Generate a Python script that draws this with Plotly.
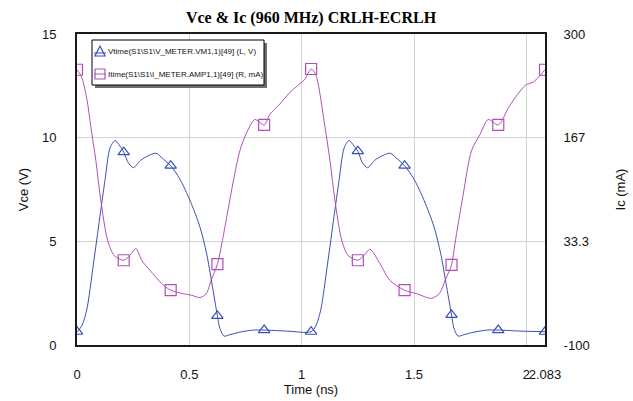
import numpy as np
import plotly.graph_objects as go

# Time axis (ns) and Vce (V) waveform, left axis
t_v = [0.000, 0.020, 0.043, 0.073, 0.102, 0.124, 0.147, 0.169, 0.191, 0.208,
       0.228, 0.251, 0.282, 0.325, 0.352, 0.384, 0.417, 0.458, 0.503, 0.547,
       0.577, 0.600, 0.625, 0.636, 0.654, 0.681, 0.725, 0.784, 0.833, 0.935,
       1.042, 1.062, 1.085, 1.115, 1.144, 1.166, 1.189, 1.211, 1.233, 1.250,
       1.270, 1.293, 1.324, 1.367, 1.394, 1.426, 1.458, 1.500, 1.545, 1.589,
       1.619, 1.642, 1.667, 1.678, 1.696, 1.723, 1.767, 1.826, 1.875, 1.977,
       2.083]
vce = [0.64, 0.90, 1.68, 3.90, 6.20, 7.90, 9.50, 9.86, 9.60, 9.30,
       8.80, 8.55, 8.90, 9.17, 9.25, 8.97, 8.65, 8.00, 6.97, 5.70,
       4.40, 3.00, 1.40, 0.80, 0.43, 0.50, 0.62, 0.72, 0.72, 0.67,
       0.64, 0.90, 1.70, 3.90, 6.20, 7.90, 9.50, 9.86, 9.60, 9.35,
       8.80, 8.55, 8.90, 9.17, 9.25, 8.97, 8.65, 8.00, 6.97, 5.70,
       4.40, 3.00, 1.45, 0.80, 0.43, 0.50, 0.62, 0.72, 0.72, 0.67,
       0.64]

# Ic (mA) waveform, right axis
t_i = [0.000, 0.020, 0.043, 0.062, 0.084, 0.106, 0.136, 0.166, 0.208, 0.235,
       0.262, 0.290, 0.325, 0.377, 0.417, 0.473, 0.510, 0.548, 0.575, 0.597,
       0.625, 0.645, 0.666, 0.696, 0.725, 0.755, 0.792, 0.833, 0.859, 0.903,
       0.948, 0.992, 1.015, 1.042, 1.062, 1.074, 1.104, 1.126, 1.148, 1.178,
       1.207, 1.250, 1.277, 1.304, 1.348, 1.393, 1.458, 1.512, 1.578, 1.615,
       1.638, 1.667, 1.682, 1.719, 1.756, 1.794, 1.830, 1.875, 1.920, 1.960,
       2.000, 2.030, 2.083]
ic = [254, 245, 218, 180, 137, 86, 35, 15, 9, 15,
      24, 8, -4, -21, -29.5, -34, -36, -39, -34, -17,
      4, 31, 64, 111, 150, 173, 190, 183, 197, 210,
      225, 236, 242, 255, 248, 235, 180, 137, 86, 35,
      15, 9, 15, 23, 5, -17, -29.5, -34, -40, -33,
      -17, 3, 30, 94, 150, 171, 190, 183, 205, 222,
      235, 238, 254]

marker_times = [0.0, 0.208, 0.417, 0.625, 0.833, 1.042, 1.250, 1.458, 1.667, 1.875, 2.083]

x_tickvals = [0, 0.5, 1, 1.5, 2, 2.083]
x_ticktext = ["0", "0.5", "1", "1.5", "2", "2.083"]
y1_tickvals = [0, 5, 10, 15]
y2_tickvals = [-100, 33.333, 166.667, 300]
y2_ticktext = ["-100", "33.3", "167", "300"]

name_v = "Vtime(S1\\S1\\V_METER.VM1,1)[49] (L, V)"
name_i = "Itime(S1\\S1\\I_METER.AMP1,1)[49] (R, mA)"

BLUE = "#3a4fb2"
MAG = "#b04fb8"

# plot-area geometry in pixels (for the hand-drawn legend box)
L, R, T, B = 77, 545, 34, 345
W, H = R - L, B - T


def px(x):
    return (x - L) / W


def py(y):
    return (B - y) / H


tv = np.array(t_v); vv = np.array(vce)
ti = np.array(t_i); ii = np.array(ic)
mv = [int(np.argmin(np.abs(tv - m))) for m in marker_times]
mi = [int(np.argmin(np.abs(ti - m))) for m in marker_times]

fig = go.Figure()
fig.add_trace(go.Scatter(x=tv, y=vv, mode="lines", name=name_v,
                         line=dict(color=BLUE, width=1, shape="spline", smoothing=0.8),
                         showlegend=False, hoverinfo="skip"))
fig.add_trace(go.Scatter(x=tv[mv], y=vv[mv], mode="markers", name=name_v,
                         marker=dict(symbol="triangle-up-open", size=10, color=BLUE, line=dict(width=1.2, color=BLUE)),
                         showlegend=False))
fig.add_trace(go.Scatter(x=ti, y=ii, mode="lines", yaxis="y2", name=name_i,
                         line=dict(color=MAG, width=1, shape="spline", smoothing=0.8),
                         showlegend=False, hoverinfo="skip"))
fig.add_trace(go.Scatter(x=ti[mi], y=ii[mi], mode="markers", yaxis="y2", name=name_i,
                         marker=dict(symbol="square-open", size=11, color=MAG, line=dict(width=1.2, color=MAG)),
                         showlegend=False))

# Legend box (drawn as shapes + text, matching the original's compact layout)
shapes = [
    dict(type="rect", xref="paper", yref="paper", x0=px(95), x1=px(267), y0=py(43), y1=py(88),
         fillcolor="#6e6e6e", line=dict(width=0), layer="above"),
    dict(type="rect", xref="paper", yref="paper", x0=px(92), x1=px(264), y0=py(40), y1=py(85),
         fillcolor="white", line=dict(color="#000", width=1), layer="above"),
]
# legend symbols
tri = "M {a},{b} L {c},{d} L {e},{f} Z".format(a=px(95), b=py(56), c=px(105), d=py(56), e=px(100), f=py(46))
shapes.append(dict(type="path", xref="paper", yref="paper", path=tri, line=dict(color=BLUE, width=1.2), layer="above"))
shapes.append(dict(type="line", xref="paper", yref="paper", x0=px(94), x1=px(106), y0=py(53), y1=py(53),
                   line=dict(color=BLUE, width=1), layer="above"))
shapes.append(dict(type="rect", xref="paper", yref="paper", x0=px(95), x1=px(105), y0=py(69), y1=py(79),
                   line=dict(color=MAG, width=1.2), layer="above"))
shapes.append(dict(type="line", xref="paper", yref="paper", x0=px(94), x1=px(106), y0=py(74), y1=py(74),
                   line=dict(color=MAG, width=1), layer="above"))

leg_font = dict(family="Liberation Sans, Arial", size=8, color="#111")
annotations = [
    dict(text=name_v, xref="paper", yref="paper", x=px(106), y=py(51.5), xanchor="left", yanchor="middle",
         showarrow=False, font=leg_font),
    dict(text=name_i, xref="paper", yref="paper", x=px(106), y=py(74), xanchor="left", yanchor="middle",
         showarrow=False, font=leg_font),
]

axis_font = dict(family="Liberation Sans, Arial", size=13, color="#111")
fig.update_layout(
    width=633, height=401,
    margin=dict(l=L, r=633 - R, t=T, b=401 - B, autoexpand=False),
    paper_bgcolor="white", plot_bgcolor="white",
    showlegend=False,
    shapes=shapes, annotations=annotations,
    title=dict(text="<b>Vce &amp; Ic (960 MHz) CRLH-ECRLH</b>", x=311 / 633,
               xanchor="center", y=1 - 17 / 401, yanchor="middle",
               font=dict(family="Liberation Serif, Times New Roman", size=16, color="#000")),
    xaxis=dict(range=[0, 2.083], tickvals=x_tickvals, ticktext=x_ticktext, tickangle=0,
               showgrid=True, gridcolor="#d4d4d4",
               gridwidth=1, zeroline=False, showline=True, linecolor="#1a1a1a", linewidth=2, mirror=True,
               ticks="outside", ticklen=16, tickcolor="rgba(0,0,0,0)", tickfont=axis_font,
               title=dict(text="Time (ns)", font=axis_font, standoff=3), automargin=False),
    yaxis=dict(range=[0, 15], tickvals=y1_tickvals, showgrid=True, gridcolor="#d4d4d4", gridwidth=1,
               zeroline=False, showline=True, linecolor="#1a1a1a", linewidth=2, mirror=True,
               ticks="outside", ticklen=16, tickcolor="rgba(0,0,0,0)", tickfont=axis_font,
               title=dict(text="Vce (V)", font=axis_font, standoff=10), automargin=False),
    yaxis2=dict(range=[-100, 300], tickvals=y2_tickvals, ticktext=y2_ticktext, overlaying="y", side="right",
                showgrid=False, zeroline=False, showline=False,
                ticks="outside", ticklen=15, tickcolor="rgba(0,0,0,0)", tickfont=axis_font,
                title=dict(text="Ic (mA)", font=axis_font, standoff=27), automargin=False),
)
fig.write_html("out.html")
